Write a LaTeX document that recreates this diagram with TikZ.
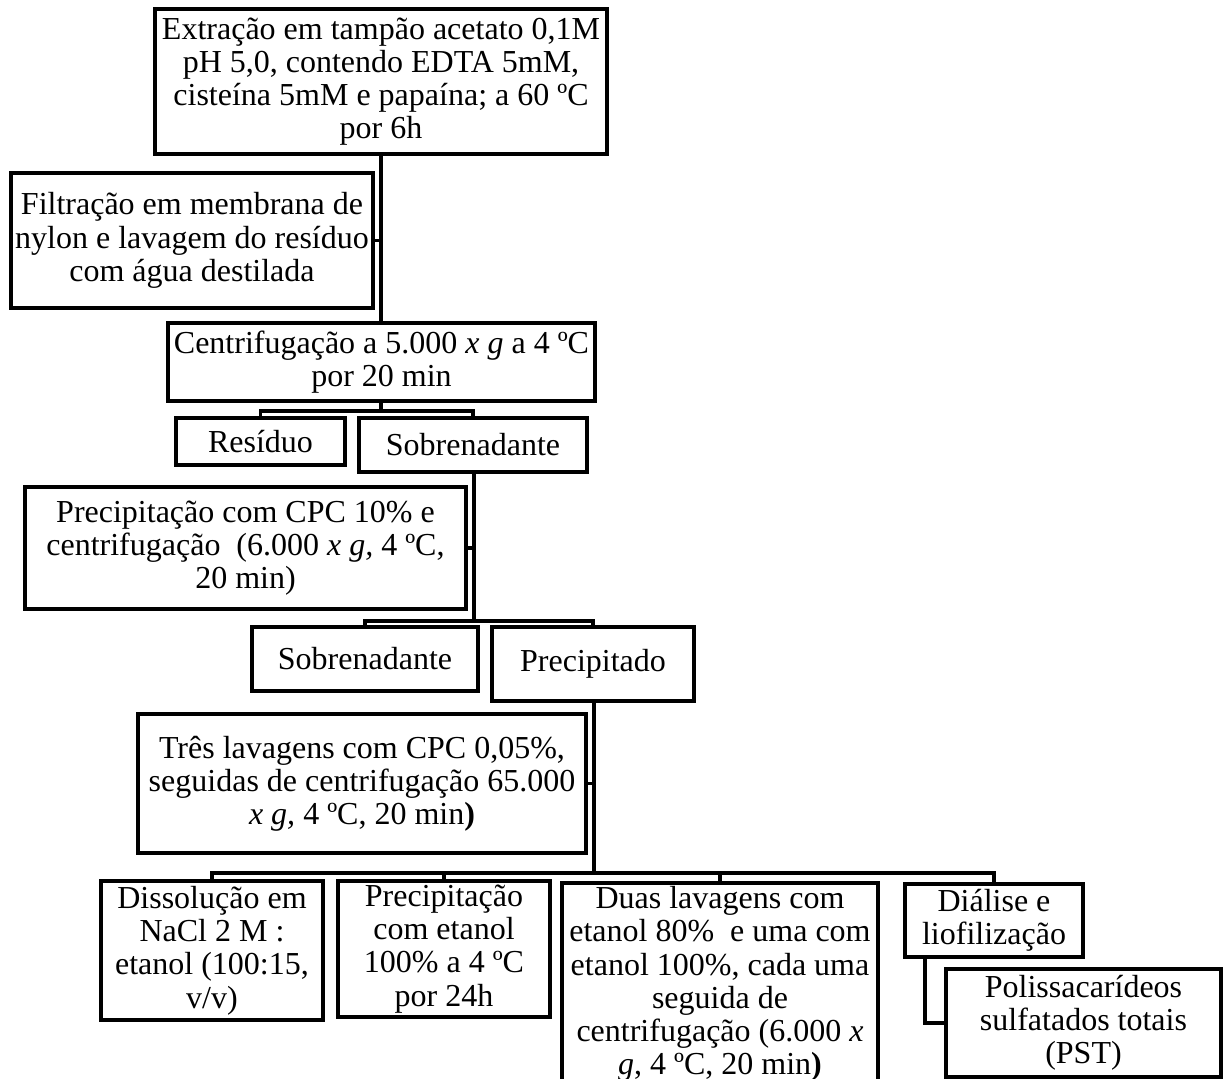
\documentclass[tikz,border=0pt]{standalone}
\usepackage{fontspec}
\setmainfont{Liberation Serif}
\begin{document}
\begin{tikzpicture}[x=0.5pt,y=-0.5pt,
  box/.style={draw,line width=1.8pt,inner sep=0pt,align=center,
    font=\fontsize{16pt}{16.6pt}\selectfont},
  conn/.style={line width=1.8pt},
  trunk/.style={line width=2.4pt}]
\useasboundingbox (0,0) rectangle (1224,1079);
\clip (0,0) rectangle (1224,1079);

% boxes
\node[box,minimum width=226pt,minimum height=72.5pt] (b1) at (381,81.5)
  {Extração em tampão acetato 0,1M\\pH 5,0, contendo EDTA 5mM,\\cisteína 5mM e papaína; a 60 ºC\\por 6h};
\node[box,minimum width=181pt,minimum height=67.5pt] (b2) at (192,240.5)
  {Filtração em membrana de\\nylon e lavagem do resíduo\\com água destilada};
\node[box,minimum width=213.5pt,minimum height=39pt] (b3) at (381.5,362)
  {Centrifugação a 5.000 \textit{x g} a 4 ºC\\por 20 min};
\node[box,minimum width=84.5pt,minimum height=23.5pt] (res) at (260.5,441.5) {Resíduo};
\node[box,minimum width=114pt,minimum height=27pt] (sob) at (473,445) {Sobrenadante};
\node[box,minimum width=220.5pt,minimum height=61pt] (b4) at (245.5,548)
  {Precipitação com CPC 10\% e\\centrifugação\ \ (6.000 \textit{x g,} 4 ºC,\\20 min)};
\node[box,minimum width=113pt,minimum height=32pt] (sob2) at (365,659) {Sobrenadante};
\node[box,minimum width=101pt,minimum height=37pt] (prec) at (593,664) {Precipitado};
\node[box,minimum width=224pt,minimum height=69.5pt] (b5) at (362,783.5)
  {Três lavagens com CPC 0,05\%,\\seguidas de centrifugação 65.000\\\textit{x g,} 4 ºC, 20 min\textbf{)}};
\node[box,minimum width=111pt,minimum height=69.5pt] (dis) at (212,950.5)
  {Dissolução em\\NaCl 2 M :\\etanol (100:15,\\v/v)};
\node[box,minimum width=106pt,minimum height=68pt] (precet) at (444,949)
  {Precipitação\\com etanol\\100\% a 4 ºC\\por 24h};
\node[box,minimum width=158pt,minimum height=101pt] (duas) at (720,984)
  {Duas lavagens com\\etanol 80\%\ \ e uma com\\etanol 100\%, cada uma\\seguida de\\centrifugação (6.000 \textit{x}\\\textit{g}, 4 ºC, 20 min\textbf{)}};
\node[box,minimum width=89pt,minimum height=36.5pt] (dia) at (994,920.5)
  {Diálise e\\liofilização};
\node[box,minimum width=137.5pt,minimum height=54pt] (pol) at (1083.5,1023)
  {Polissacarídeos\\sulfatados totais\\(PST)};

% junction points
\coordinate (j1) at (381,411);
\coordinate (j2) at (474,621);
\coordinate (j3) at (594,873);
\coordinate (lc) at (925,1023);

% connectors
\draw[trunk] (b1.south) -- (b1.south |- b3.north);
\draw[conn] (b2.east) -- (b2.east -| b1.south);
\draw[conn] (b3.south -| j1) -- (j1);
\draw[conn] (res.north) -- (res.north |- j1) -| (sob.north);

\draw[trunk] (sob.south -| j2) -- (j2);
\draw[conn] (b4.east) -- (b4.east -| j2);
\draw[conn] (sob2.north) -- (sob2.north |- j2) -| (prec.north);

\draw[trunk] (prec.south -| j3) -- (j3);
\draw[conn] (b5.east) -- (b5.east -| j3);
\draw[conn] (dis.north) -- (dis.north |- j3) -| (dia.north);
\draw[conn] (precet.north) -- (precet.north |- j3);
\draw[trunk] (j3) -- (j3 -| duas.north) -- (duas.north);
\draw[trunk] (dia.south -| lc) -- (lc) -- (pol.west);
\end{tikzpicture}
\end{document}
